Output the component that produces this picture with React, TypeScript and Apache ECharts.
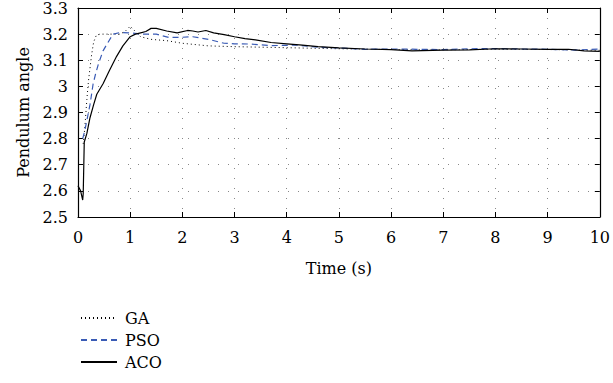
import React, { useEffect, useRef } from "react";
import * as echarts from "echarts";

const acoTime = [0, 0.05, 0.09, 0.1, 0.12, 0.17, 0.23, 0.3, 0.36, 0.48, 0.6, 0.74, 0.86, 1.0, 1.1, 1.2, 1.3, 1.4, 1.5, 1.7, 1.9, 2.1, 2.2, 2.3, 2.45, 2.6, 2.8, 3.0, 3.2, 3.4, 3.7, 4.0, 4.3, 4.6, 5.0, 5.5, 6.0, 6.4, 7.0, 7.5, 8.0, 8.5, 9.0, 9.4, 9.7, 10];
const acoValues = [2.62, 2.6, 2.565, 2.59, 2.787, 2.82, 2.88, 2.93, 2.97, 3.01, 3.06, 3.115, 3.155, 3.19, 3.2, 3.205, 3.21, 3.222, 3.222, 3.212, 3.205, 3.214, 3.212, 3.208, 3.214, 3.205, 3.198, 3.19, 3.183, 3.178, 3.168, 3.163, 3.158, 3.152, 3.147, 3.143, 3.141, 3.136, 3.139, 3.14, 3.144, 3.143, 3.142, 3.142, 3.136, 3.134];

const gaTime = [0.1, 0.13, 0.17, 0.2, 0.23, 0.26, 0.3, 0.35, 0.42, 0.6, 0.8, 0.9, 1.0, 1.1, 1.2, 1.4, 1.7, 2.0, 2.5, 3.0, 3.5, 4.0, 4.5, 5.0, 6, 7, 8, 9, 10];
const gaValues = [2.78, 2.84, 2.95, 3.02, 3.07, 3.12, 3.17, 3.195, 3.2, 3.2, 3.2, 3.21, 3.23, 3.21, 3.19, 3.18, 3.175, 3.165, 3.155, 3.152, 3.15, 3.148, 3.146, 3.144, 3.141, 3.14, 3.142, 3.141, 3.138];

const psoTime = [0.09, 0.13, 0.17, 0.23, 0.29, 0.34, 0.39, 0.48, 0.58, 0.67, 0.8, 1.0, 1.2, 1.5, 1.75, 2.0, 2.2, 2.5, 2.8, 3.0, 3.3, 3.7, 4.2, 4.6, 5.0, 5.5, 6, 6.5, 7, 7.5, 8, 8.5, 9, 9.5, 10];
const psoValues = [2.8, 2.83, 2.87, 2.93, 3.01, 3.05, 3.085, 3.136, 3.17, 3.2, 3.206, 3.205, 3.2, 3.2, 3.187, 3.188, 3.19, 3.18, 3.165, 3.163, 3.162, 3.156, 3.158, 3.15, 3.147, 3.142, 3.143, 3.142, 3.141, 3.144, 3.145, 3.143, 3.142, 3.139, 3.143];

const seriesNames = ["GA", "PSO", "ACO"];
const xName = "Time (s)";
const yName = "Pendulum angle";

const pair = (t: number[], v: number[]) => t.map((x, i) => [x, v[i]]);

const FONT = "DejaVu Serif";

export default function App() {
  const ref = useRef<HTMLDivElement>(null);
  useEffect(() => {
    if (!ref.current) return;
    const chart = echarts.init(ref.current, undefined, { renderer: "svg" });
    const txt = { fontFamily: FONT, fontSize: 16, color: "#000", fontWeight: "normal" as const };
    const gridLine = { show: true, lineStyle: { color: "#888", type: [1, 9], width: 1 } };
    const baseX = {
      type: "value",
      min: 0,
      max: 10,
      interval: 1,
      axisLine: { show: true, onZero: false, lineStyle: { color: "#000", width: 1.2 } },
      axisTick: { show: true, inside: true, length: 5, lineStyle: { color: "#000" } },
    };
    const baseY = {
      type: "value",
      min: 2.5,
      max: 3.3,
      interval: 0.1,
      axisLine: { show: true, onZero: false, lineStyle: { color: "#000", width: 1.2 } },
      axisTick: { show: true, inside: true, length: 5, lineStyle: { color: "#000" } },
    };
    chart.setOption({
      animation: false,
      backgroundColor: "#fff",
      textStyle: txt,
      grid: { left: 78, right: 7, top: 7, bottom: 166 },
      legend: {
        orient: "vertical",
        left: 75,
        top: 305,
        itemWidth: 36,
        itemHeight: 18,
        itemGap: 6,
        height: 76,
        data: seriesNames,
        itemStyle: { opacity: 0 },
        textStyle: { ...txt, padding: [0, 0, 0, 3] },
      },
      xAxis: [
        {
          ...baseX,
          position: "bottom",
          name: xName,
          nameLocation: "middle",
          nameGap: 43,
          nameTextStyle: txt,
          axisLabel: { ...txt, margin: 12 },
          splitLine: gridLine,
        },
        {
          ...baseX,
          position: "top",
          axisLabel: { show: false },
          splitLine: { show: false },
        },
      ],
      yAxis: [
        {
          ...baseY,
          position: "left",
          name: yName,
          nameLocation: "middle",
          nameGap: 45,
          nameTextStyle: txt,
          axisLabel: { ...txt, margin: 10 },
          splitLine: gridLine,
        },
        {
          ...baseY,
          position: "right",
          axisLabel: { show: false },
          splitLine: { show: false },
        },
      ],
      series: [
        {
          name: "GA",
          type: "line",
          symbol: "none",
          data: pair(gaTime, gaValues),
          lineStyle: { color: "#000", width: 1, type: [1, 3] },
          itemStyle: { color: "#000" },
        },
        {
          name: "PSO",
          type: "line",
          symbol: "none",
          data: pair(psoTime, psoValues),
          lineStyle: { color: "#3a5bb5", width: 1.2, type: [6, 4] },
          itemStyle: { color: "#3a5bb5" },
        },
        {
          name: "ACO",
          type: "line",
          symbol: "none",
          data: pair(acoTime, acoValues),
          lineStyle: { color: "#000", width: 1.2, type: "solid" },
          itemStyle: { color: "#000" },
        },
      ],
    });
    return () => chart.dispose();
  }, []);
  return <div ref={ref} style={{ width: 613, height: 383, position: "absolute", left: 0, top: 0 }} />;
}
